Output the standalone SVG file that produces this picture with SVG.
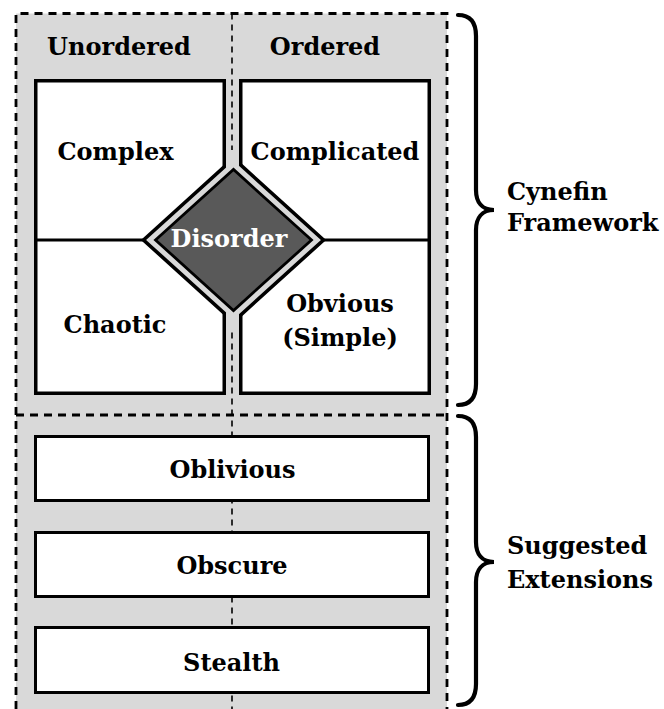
<svg xmlns="http://www.w3.org/2000/svg" width="664" height="709" viewBox="0 0 664 709">
  <style>
    .lbl { font-family: "DejaVu Serif", "Liberation Serif", serif; font-weight: bold; font-size: 24px; fill: #000; }
    .mid { text-anchor: middle; }
    .box { fill: #fff; stroke: #000; stroke-width: 3.5; }
    .ext { fill: #fff; stroke: #000; stroke-width: 3; }
    .dash { fill: none; stroke: #000; stroke-width: 2.8; stroke-dasharray: 8 6; }
    .dash-thin { fill: none; stroke: #000; stroke-width: 1.6; stroke-dasharray: 6 5; }
    .brace { fill: none; stroke: #000; stroke-width: 4.2; stroke-linecap: round; }
  </style>

  <!-- shaded panel behind everything -->
  <rect x="16" y="13.5" width="431" height="696" fill="#d9d9d9"/>

  <g id="guides">
    <line class="dash-thin" x1="232" y1="13.5" x2="232" y2="709"/>
    <path class="dash" d="M16,709 V13.5 H447 V709"/>
    <line class="dash" x1="16" y1="415" x2="447" y2="415"/>
  </g>

  <g id="column-headers">
    <text class="lbl mid" x="119" y="55">Unordered</text>
    <text class="lbl mid" x="325" y="55">Ordered</text>
  </g>

  <!-- Cynefin quadrants -->
  <g id="quadrants">
    <rect class="box" x="35.75" y="80.75" width="188.5" height="312.5"/>
    <rect class="box" x="240.75" y="80.75" width="188.5" height="312.5"/>
    <line x1="34" y1="240" x2="226" y2="240" stroke="#000" stroke-width="3"/>
    <line x1="239" y1="240" x2="431" y2="240" stroke="#000" stroke-width="3"/>
  </g>
  <g id="complex"><text class="lbl mid" x="115.5" y="160">Complex</text></g>
  <g id="complicated"><text class="lbl mid" x="335" y="160">Complicated</text></g>
  <g id="chaotic"><text class="lbl mid" x="115" y="333">Chaotic</text></g>
  <g id="obvious">
    <text class="lbl mid" x="340" y="312">Obvious</text>
    <text class="lbl mid" x="340" y="346">(Simple)</text>
  </g>

  <g id="disorder">
    <polygon points="143.5,240 233.5,158.5 323.5,240 233.5,321.5" fill="#d9d9d9" stroke="#000" stroke-width="3.6"/>
    <!-- open the channel between the two columns -->
    <rect x="226" y="150" width="13" height="180" fill="#d9d9d9"/>
    <polygon points="155.5,240 233.5,169.5 311.5,240 233.5,310.5" fill="#595959" stroke="#000" stroke-width="2.8"/>
    <text class="lbl mid" x="229" y="247" style="fill:#fff">Disorder</text>
  </g>

  <!-- extensions -->
  <g id="oblivious">
    <rect class="ext" x="35.5" y="436.5" width="393" height="64"/>
    <text class="lbl mid" x="232.5" y="478">Oblivious</text>
  </g>
  <g id="obscure">
    <rect class="ext" x="35.5" y="532.5" width="393" height="64"/>
    <text class="lbl mid" x="232" y="574">Obscure</text>
  </g>
  <g id="stealth">
    <rect class="ext" x="35.5" y="627.5" width="393" height="65"/>
    <text class="lbl mid" x="231.5" y="671">Stealth</text>
  </g>

  <!-- side braces -->
  <g id="cynefin-brace">
    <path class="brace" d="M458,15 C470,15 476,22 476,36 L476,190 C476,202 482,210 494,210 C482,210 476,218 476,230 L476,384 C476,398 470,405 458,405"/>
    <text class="lbl" x="507" y="200">Cynefin</text>
    <text class="lbl" x="507" y="231">Framework</text>
  </g>
  <g id="extensions-brace">
    <path class="brace" d="M458,416 C470,416 476,423 476,437 L476,542 C476,554 482,562 494,562 C482,562 476,570 476,582 L476,684 C476,698 470,705 458,705"/>
    <text class="lbl" x="507" y="554">Suggested</text>
    <text class="lbl" x="507" y="588">Extensions</text>
  </g>
</svg>
